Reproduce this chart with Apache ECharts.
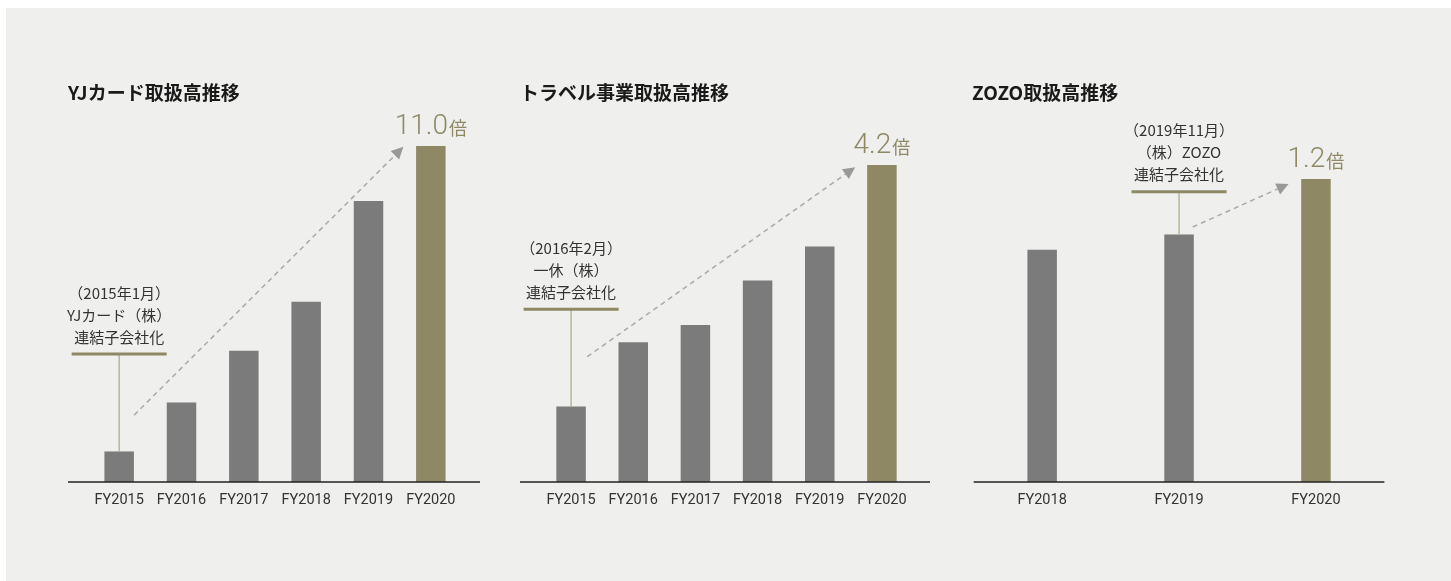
<!DOCTYPE html>
<html><head><meta charset="utf-8">
<script src="https://cdn.jsdelivr.net/npm/echarts@6/dist/echarts.min.js"></script>
<style>html,body{margin:0;padding:0;background:#fff}#c{width:1451px;height:581px}</style>
</head><body><div id="c"></div>
<script>
// ---- data ----
const titles = ['YJカード取扱高推移', 'トラベル事業取扱高推移', 'ZOZO取扱高推移'];
const cats1 = ['FY2015', 'FY2016', 'FY2017', 'FY2018', 'FY2019', 'FY2020'];
const vals1 = [1.0, 2.6, 4.3, 5.9, 9.2, 11.0];
const cats2 = ['FY2015', 'FY2016', 'FY2017', 'FY2018', 'FY2019', 'FY2020'];
const vals2 = [1.0, 1.85, 2.08, 2.67, 3.12, 4.2];
const cats3 = ['FY2018', 'FY2019', 'FY2020'];
const vals3 = [0.92, 0.98, 1.2];
const note1 = ['（2015年1月）', 'YJカード（株）', '連結子会社化'];
const note2 = ['（2016年2月）', '一休（株）', '連結子会社化'];
const note3 = ['（2019年11月）', '（株）ZOZO', '連結子会社化'];
const multUnit = '倍';

// ---- layout / style ----
const GREY = '#7b7b7b', OLIVE = '#8e8964', BG = '#efefed';
const panels = [
  { cats: cats1, vals: vals1, note: note1, title: titles[0], left: 88, width: 374, max: 12,
    noteAt: [0, 4.19], arrow: [[0.24, 2.19], [4.56, 10.97]], ext: [20, 18], titleX: 68 },
  { cats: cats2, vals: vals2, note: note2, title: titles[1], left: 540, width: 373, max: 5,
    noteAt: [0, 2.29], arrow: [[0.26, 1.66], [4.57, 4.17]], ext: [20, 17], titleX: 520 },
  { cats: cats3, vals: vals3, note: note3, title: titles[2], left: 973.7, width: 410.7, max: 1.5,
    noteAt: [1, 1.15], arrow: [[1.10, 1.01], [1.80, 1.18]], ext: [0, 0], titleX: 972 }
];
const BASE = 482;
const pxPerUnit = [30.55, 75.48, 252.5];

const chart = echarts.init(document.getElementById('c'));
const option = {
  backgroundColor: '#fff',
  animation: false,
  title: panels.map(p => ({
    text: p.title, left: p.titleX, top: 83, padding: 0,
    textStyle: { fontSize: 19, fontWeight: 'bold', color: '#1a1a1a', fontFamily: 'Noto Sans CJK JP' }
  })),
  grid: panels.map((p, i) => {
    const h = p.max * pxPerUnit[i];
    return { left: p.left, width: p.width, top: BASE - h, height: h, containLabel: false };
  }),
  xAxis: panels.map((p, i) => ({
    type: 'category', gridIndex: i, data: p.cats,
    axisLine: { show: false }, axisTick: { show: false },
    axisLabel: { interval: 0, margin: 11, fontSize: 14.5, color: '#333', fontFamily: 'Roboto' }
  })),
  yAxis: panels.map((p, i) => ({
    type: 'value', gridIndex: i, min: 0, max: p.max, show: false, splitLine: { show: false }
  })),
  series: panels.map((p, i) => ({
    type: 'bar', xAxisIndex: i, yAxisIndex: i, barWidth: 29.5,
    data: p.vals.map((v, j) => {
      const last = j === p.vals.length - 1;
      return {
        value: v,
        itemStyle: { color: last ? OLIVE : GREY },
        label: last ? {
          show: true, position: 'top', distance: 5,
          formatter: '{n|' + v.toFixed(1) + '}{u|' + multUnit + '}',
          rich: {
            n: { fontSize: 28, fontWeight: 300, color: OLIVE, fontFamily: 'Roboto' },
            u: { fontSize: 18, color: OLIVE, fontFamily: 'Noto Sans CJK JP', padding: [3, 0, 0, 1] }
          }
        } : { show: false }
      };
    })
  }))
};
chart.setOption(option);

function px(g, idx, val) {
  const p0 = chart.convertToPixel({ gridIndex: g }, [0, val]);
  const p1 = chart.convertToPixel({ gridIndex: g }, [1, val]);
  return [p0[0] + (p1[0] - p0[0]) * idx, p0[1]];
}

const gfx = [{ type: 'rect', shape: { x: 6, y: 8, width: 1451, height: 581 }, style: { fill: BG }, z: -10, silent: true }];
panels.forEach((p, g) => {
  const a = px(g, -0.5, 0), b = px(g, p.cats.length - 0.5, 0);
  gfx.push({ type: 'line', shape: { x1: a[0] - p.ext[0], y1: a[1], x2: b[0] + p.ext[1], y2: b[1] },
    style: { stroke: '#222', lineWidth: 1.5 }, z: 10 });
  const na = px(g, p.noteAt[0], p.noteAt[1]);
  const barTop = px(g, p.noteAt[0], p.vals[p.noteAt[0]]);
  gfx.push({ type: 'line', shape: { x1: na[0], y1: na[1], x2: barTop[0], y2: barTop[1] },
    style: { stroke: '#b9b59a', lineWidth: 1.5 }, z: 10 });
  gfx.push({ type: 'line', shape: { x1: na[0] - 47.5, y1: na[1], x2: na[0] + 47.5, y2: na[1] },
    style: { stroke: OLIVE, lineWidth: 3 }, z: 10 });
  p.note.forEach((t, k) => {
    gfx.push({ type: 'text', x: na[0], y: na[1] - 17 - (p.note.length - 1 - k) * 22,
      style: { text: t, fill: '#333', font: '15px "Noto Sans CJK JP"', textAlign: 'center', textVerticalAlign: 'middle' }, z: 10 });
  });
  const s = px(g, p.arrow[0][0], p.arrow[0][1]);
  const e = px(g, p.arrow[1][0], p.arrow[1][1]);
  const dx = e[0] - s[0], dy = e[1] - s[1], L = Math.hypot(dx, dy);
  const ux = dx / L, uy = dy / L, hl = 12, hw = 6;
  const bx = e[0] - ux * hl, by = e[1] - uy * hl;
  gfx.push({ type: 'line', shape: { x1: s[0], y1: s[1], x2: bx, y2: by },
    style: { stroke: '#a9a9a9', lineWidth: 1.5, lineDash: [5, 4] }, z: 10 });
  gfx.push({ type: 'polygon', shape: { points: [[e[0], e[1]], [bx - uy * hw, by + ux * hw], [bx + uy * hw, by - ux * hw]] },
    style: { fill: '#999' }, z: 10 });
});
chart.setOption({ graphic: gfx });
</script></body></html>
